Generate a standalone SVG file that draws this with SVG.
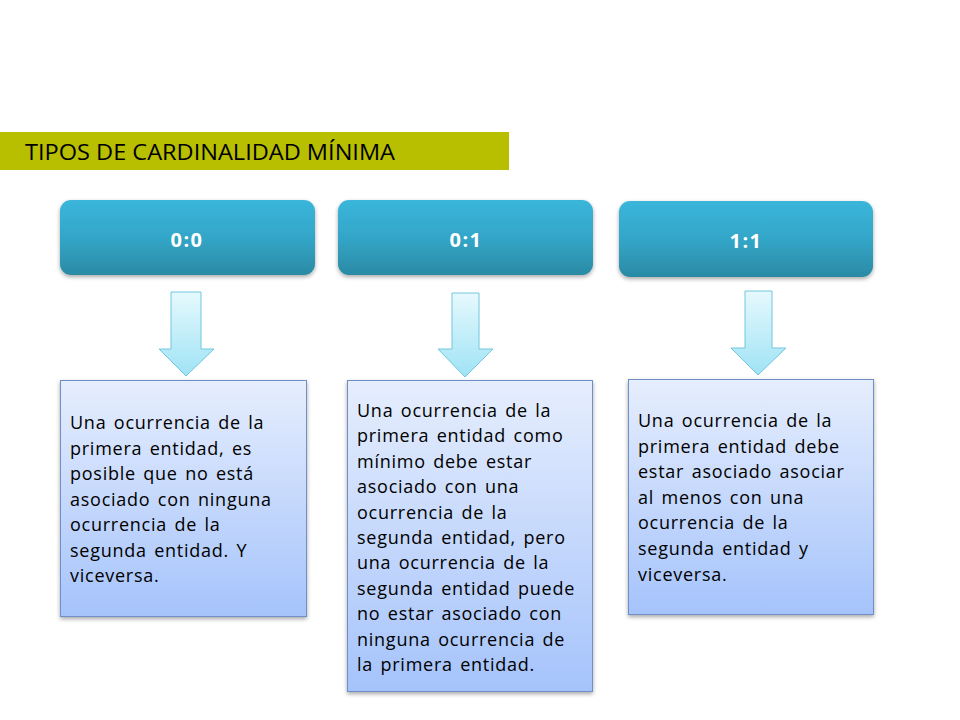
<svg xmlns="http://www.w3.org/2000/svg" width="960" height="720" viewBox="0 0 960 720">
  <defs>
    <linearGradient id="hdr" x1="0" y1="0" x2="0" y2="1">
      <stop offset="0" stop-color="#3ab6da"/>
      <stop offset="0.5" stop-color="#33a6c8"/>
      <stop offset="1" stop-color="#2b8aa4"/>
    </linearGradient>
    <linearGradient id="box" x1="0" y1="0" x2="0" y2="1">
      <stop offset="0" stop-color="#e6eefd"/>
      <stop offset="1" stop-color="#a5c3fb"/>
    </linearGradient>
    <linearGradient id="arr" x1="0" y1="0" x2="0" y2="1">
      <stop offset="0" stop-color="#e6f9fd"/>
      <stop offset="1" stop-color="#9fe3f5"/>
    </linearGradient>
    <filter id="sh" x="-10%" y="-10%" width="120%" height="130%">
      <feGaussianBlur in="SourceAlpha" stdDeviation="2"/>
      <feOffset dx="0" dy="2" result="b"/>
      <feComponentTransfer><feFuncA type="linear" slope="0.35"/></feComponentTransfer>
      <feMerge><feMergeNode/><feMergeNode in="SourceGraphic"/></feMerge>
    </filter>
  </defs>
  <style>
    .hdr { fill: url(#hdr); filter: url(#sh); }
    .hdrt { font-family: "Open Sans", "DejaVu Sans", sans-serif; font-weight: bold; font-size: 20px; fill: #ffffff; text-anchor: middle; letter-spacing: 1.5px; }
    .box { fill: url(#box); stroke: #6f8fc9; stroke-width: 1; filter: url(#sh); }
    .bt { font-family: "Open Sans", "DejaVu Sans", sans-serif; font-size: 18px; fill: #000000; letter-spacing: 0.75px; word-spacing: 2px; }
    .arr { fill: url(#arr); stroke: #72c6de; stroke-width: 1; }
    .title { font-family: "Open Sans", "DejaVu Sans", sans-serif; font-size: 21px; fill: #000000; }
  </style>

  <g id="title">
    <rect x="0" y="132" width="509" height="38" fill="#b8bf00"/>
    <text class="title" x="25" y="160" textLength="370" lengthAdjust="spacingAndGlyphs">TIPOS DE CARDINALIDAD MÍNIMA</text>
  </g>

  <g id="h00">
    <rect class="hdr" x="60" y="200" width="255" height="75" rx="11"/>
    <text class="hdrt" x="187" y="247">0:0</text>
  </g>
  <g id="h01">
    <rect class="hdr" x="338" y="200" width="255" height="75" rx="11"/>
    <text class="hdrt" x="466" y="247">0:1</text>
  </g>
  <g id="h11">
    <rect class="hdr" x="619" y="201" width="254" height="76" rx="11"/>
    <text class="hdrt" x="746" y="248">1:1</text>
  </g>

  <g id="connectors">
    <path class="arr" d="M171,292 H201 V349 H214 L186,376 L159,349 H171 Z"/>
    <path class="arr" d="M452,293 H479 V349 H493 L465,377 L438,349 H452 Z"/>
    <path class="arr" d="M745,291 H772 V348 H786 L758,375 L731,348 H745 Z"/>
  </g>

  <g id="b00">
    <rect class="box" x="60.5" y="380.5" width="246" height="236"/>
    <text class="bt">
      <tspan x="70" y="429">Una ocurrencia de la</tspan>
      <tspan x="70" y="454.5">primera entidad, es</tspan>
      <tspan x="70" y="480">posible que no está</tspan>
      <tspan x="70" y="505.5">asociado con ninguna</tspan>
      <tspan x="70" y="531">ocurrencia de la</tspan>
      <tspan x="70" y="556.5">segunda entidad. Y</tspan>
      <tspan x="70" y="582">viceversa.</tspan>
    </text>
  </g>

  <g id="b01">
    <rect class="box" x="347.5" y="380.5" width="245" height="311"/>
    <text class="bt">
      <tspan x="357" y="417">Una ocurrencia de la</tspan>
      <tspan x="357" y="442.4">primera entidad como</tspan>
      <tspan x="357" y="467.8">mínimo debe estar</tspan>
      <tspan x="357" y="493.2">asociado con una</tspan>
      <tspan x="357" y="518.6">ocurrencia de la</tspan>
      <tspan x="357" y="544">segunda entidad, pero</tspan>
      <tspan x="357" y="569.4">una ocurrencia de la</tspan>
      <tspan x="357" y="594.8">segunda entidad puede</tspan>
      <tspan x="357" y="620.2">no estar asociado con</tspan>
      <tspan x="357" y="645.6">ninguna ocurrencia de</tspan>
      <tspan x="357" y="671">la primera entidad.</tspan>
    </text>
  </g>

  <g id="b11">
    <rect class="box" x="628.5" y="379.5" width="245" height="235"/>
    <text class="bt">
      <tspan x="638" y="427">Una ocurrencia de la</tspan>
      <tspan x="638" y="452.6">primera entidad debe</tspan>
      <tspan x="638" y="478.2">estar asociado asociar</tspan>
      <tspan x="638" y="503.8">al menos con una</tspan>
      <tspan x="638" y="529.4">ocurrencia de la</tspan>
      <tspan x="638" y="555">segunda entidad y</tspan>
      <tspan x="638" y="580.6">viceversa.</tspan>
    </text>
  </g>
</svg>
